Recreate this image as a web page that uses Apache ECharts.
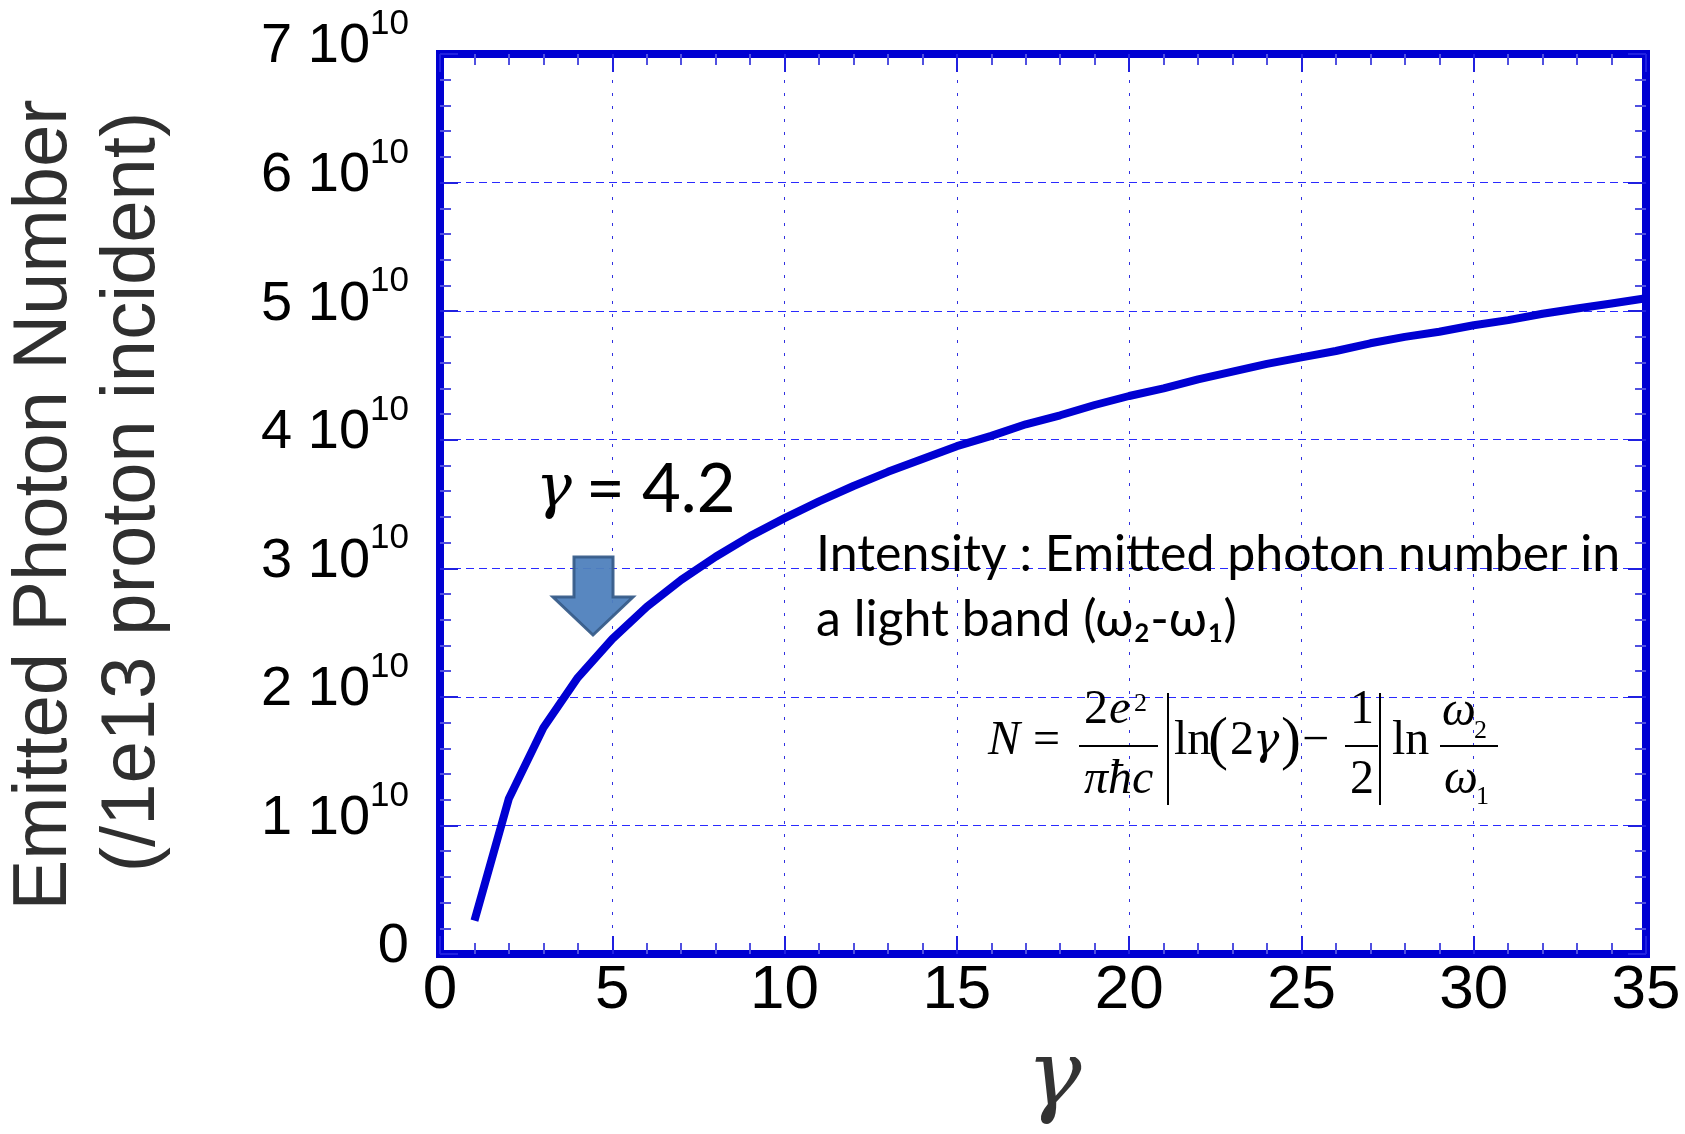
<!DOCTYPE html>
<html>
<head>
<meta charset="utf-8">
<title>Emitted Photon Number vs gamma</title>
<script src="https://cdn.jsdelivr.net/npm/echarts@6/dist/echarts.min.js"></script>
<style>
  html, body { margin: 0; padding: 0; background: #ffffff; }
  #chart { width: 1685px; height: 1134px; }
</style>
</head>
<body>
<div id="chart"></div>
<script>
// 曲线数据 (γ, 光子数 / 1e10)
const gammaValues = [1, 2, 3, 4, 5, 6, 7, 8, 9, 10, 11, 12, 13, 14, 15, 16, 17, 18,
    19, 20, 21, 22, 23, 24, 25, 26, 27, 28, 29, 30, 31, 32, 33, 34, 35];
const photonNumber = [0.26, 1.21, 1.76, 2.15, 2.45, 2.70, 2.91, 3.09, 3.25, 3.39,
    3.52, 3.64, 3.75, 3.85, 3.95, 4.03, 4.12, 4.19, 4.27, 4.34, 4.40, 4.47, 4.53,
    4.59, 4.64, 4.69, 4.75, 4.80, 4.84, 4.89, 4.93, 4.98, 5.02, 5.06, 5.10];
const yExponent = '10';
const xRange = [0, 35, 5];
const yRange = [0, 7, 1];

const BLUE = '#0000d2';
const SANS = '"Liberation Sans", Arial, sans-serif';
const SERIF = '"Liberation Serif", "Times New Roman", serif';
const GREEK = '"DejaVu Serif", "Liberation Serif", serif';
const CALI = 'Lato, "Open Sans", sans-serif';

// 以基线定位文字 (zrender 按 middle 绘制)
function txt(x, baseline, text, size, family, opts) {
    opts = opts || {};
    return {
        type: 'text',
        z: 50,
        x: x,
        y: baseline - 0.34 * size,
        style: {
            text: text,
            font: (opts.italic ? 'italic ' : '') + size + 'px ' + family,
            fill: opts.color || '#000',
            align: opts.align || 'left',
            verticalAlign: 'middle'
        }
    };
}

function bar(x1, y1, x2, y2) {
    return {
        type: 'line',
        z: 50,
        shape: { x1: x1, y1: y1, x2: x2, y2: y2 },
        style: { stroke: '#000', lineWidth: 2 }
    };
}

function buildGraphics() {
    const g = [];
    // y 轴标题
    g.push({
        type: 'text', x: 45, y: 505, rotation: Math.PI / 2,
        style: { text: 'Emitted Photon Number', font: '76px ' + SANS, fill: '#2f2f2f',
            align: 'center', verticalAlign: 'middle' }
    });
    g.push({
        type: 'text', x: 133, y: 492, rotation: Math.PI / 2,
        style: { text: '(/1e13 proton incident)', font: '76px ' + SANS, fill: '#2f2f2f',
            align: 'center', verticalAlign: 'middle' }
    });
    // x 轴标题
    g.push(txt(1054, 1112, 'γ', 92, GREEK, { italic: true, align: 'center', color: '#333' }));

    // 箭头
    g.push({
        type: 'polygon', z: 40,
        shape: { points: [[574, 557], [613, 557], [613, 597], [633, 597], [593, 635], [553, 597], [574, 597]] },
        style: { fill: '#4f81bd', stroke: '#385d8a', lineWidth: 3, opacity: 0.95 }
    });
    g.push(txt(536, 512, 'γ', 60, GREEK, { italic: true }));
    g.push(txt(586, 513, '= 4.2', 67, CALI));

    // 说明文字
    g.push(txt(816, 572, 'Intensity : Emitted photon number in', 50, CALI));
    g.push(txt(816, 637, 'a light band (ω₂-ω₁)', 50, CALI));

    // 公式
    g.push(txt(988, 758, 'N', 48, SERIF, { italic: true }));
    g.push(txt(1033, 758, '=', 48, SERIF));
    g.push(txt(1084, 727, '2', 48, SERIF));
    g.push(txt(1109, 727, 'e', 48, SERIF, { italic: true }));
    g.push(txt(1134, 713, '2', 26, SERIF));
    g.push(bar(1079, 746, 1158, 746));
    g.push(txt(1084, 797, 'πħc', 48, SERIF, { italic: true }));
    g.push(bar(1168, 693, 1168, 805));
    g.push(txt(1174, 758, 'ln', 48, SERIF));
    g.push(txt(1208, 763, '(', 60, SERIF));
    g.push(txt(1230, 758, '2', 48, SERIF));
    g.push(txt(1253, 758, 'γ', 44, GREEK, { italic: true }));
    g.push(txt(1281, 763, ')', 60, SERIF));
    g.push(txt(1302, 758, '−', 48, SERIF));
    g.push(txt(1350, 727, '1', 48, SERIF));
    g.push(bar(1345, 746, 1378, 746));
    g.push(txt(1350, 797, '2', 48, SERIF));
    g.push(bar(1380, 693, 1380, 805));
    g.push(txt(1392, 758, 'ln', 48, SERIF));
    g.push(txt(1442, 729, 'ω', 48, SERIF, { italic: true }));
    g.push(txt(1474, 740, '2', 26, SERIF));
    g.push(bar(1440, 746, 1498, 746));
    g.push(txt(1444, 797, 'ω', 48, SERIF, { italic: true }));
    g.push(txt(1476, 806, '1', 26, SERIF));
    return g;
}

const tickStyle = { show: true, inside: true, length: 18, lineStyle: { color: '#2020e0', width: 2 } };
const minorTickStyle = { show: true, splitNumber: 5, length: 11, lineStyle: { color: '#5050e0', width: 2 } };

function mirrorAxis(pos, range) {
    return {
        type: 'value', position: pos, min: range[0], max: range[1], interval: range[2],
        axisLine: { show: true, onZero: false, lineStyle: { color: BLUE, width: 8 } },
        axisTick: tickStyle,
        minorTick: minorTickStyle,
        axisLabel: { show: false },
        splitLine: { show: false }
    };
}

const chart = echarts.init(document.getElementById('chart'));

const option = {
    animation: false,
    backgroundColor: '#fff',
    grid: {
        left: 440, top: 54, width: 1206, height: 900,
        show: true, borderColor: BLUE, borderWidth: 8
    },
    xAxis: [
        {
            type: 'value', position: 'bottom', min: xRange[0], max: xRange[1], interval: xRange[2],
            axisLine: { show: true, onZero: false, lineStyle: { color: BLUE, width: 8 } },
            axisTick: tickStyle,
            minorTick: minorTickStyle,
            axisLabel: { color: '#000', fontSize: 62, fontFamily: SANS, margin: 6 },
            splitLine: { show: true, lineStyle: { color: '#3030e0', width: 1, type: [3, 10] } }
        },
        mirrorAxis('top', xRange)
    ],
    yAxis: [
        {
            type: 'value', position: 'left', min: yRange[0], max: yRange[1], interval: yRange[2],
            axisLine: { show: true, onZero: false, lineStyle: { color: BLUE, width: 8 } },
            axisTick: tickStyle,
            minorTick: minorTickStyle,
            axisLabel: {
                margin: 31,
                padding: [0, 0, 14, 0],
                formatter: function (v) {
                    return v === 0 ? '{a|0}' : '{a|' + v + ' 10}{b|' + yExponent + '}';
                },
                rich: {
                    a: { color: '#000', fontSize: 56, lineHeight: 80, fontFamily: SANS },
                    b: { color: '#000', fontSize: 35, lineHeight: 35, fontFamily: SANS, verticalAlign: 'top' }
                }
            },
            splitLine: { show: true, lineStyle: { color: '#2a2aff', width: 1, type: [8, 5] } }
        },
        mirrorAxis('right', yRange)
    ],
    series: [
        {
            type: 'line',
            data: gammaValues.map((g, i) => [g, photonNumber[i]]),
            symbol: 'none',
            smooth: false,
            z: 10,
            lineStyle: { color: BLUE, width: 8 }
        }
    ],
    graphic: buildGraphics()
};

chart.setOption(option);
</script>
</body>
</html>
